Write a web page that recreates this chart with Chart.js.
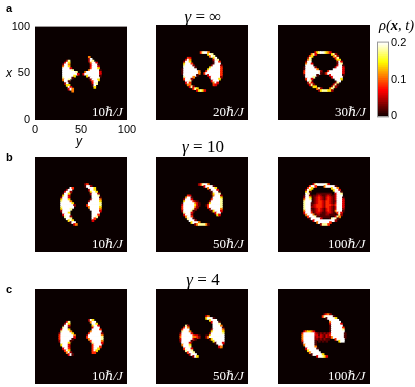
<!DOCTYPE html>
<html>
<head>
<meta charset="utf-8">
<script src="https://cdn.jsdelivr.net/npm/chart.js@4"></script>
<style>
  html, body { margin: 0; padding: 0; background: #fff; }
  body { width: 415px; height: 387px; position: relative; overflow: hidden; }
  canvas { position: absolute; filter: blur(0.7px); }
  .t { position: absolute; white-space: nowrap; line-height: 1; }
  .tag { font: bold 11px "Liberation Sans", sans-serif; color: #000; }
  .title { font: 17px "Liberation Serif", serif; color: #000; transform: translateX(-50%); }
  .time { font: italic 13px "Liberation Serif", "DejaVu Serif", serif; color: #fff; }
  .time b { font-weight: normal; font-style: normal; }
  .axis { font: italic 12px "Liberation Sans", sans-serif; color: #000; }
  .cbar { font: italic 14.5px "Liberation Serif", serif; color: #000; }
</style>
</head>
<body>
<script>
// density maps, rows top to bottom (x = 73 ... 25), columns y = 26 ... 74 in cells of 2 sites
// . = 0, digits index levelValues, w = 0.2 or more
const rhoInf10 = ['','','',
  '................5','................28','....27..........2w7','...3w6...........5ww3','..28w5...........3ww81',
  '..5ww6...........3www3','..8www3..........4www6','..8wwww7........5wwwww1','..8wwwwww7....5wwwwwww3','..8wwwwwww3..3wwwwwwww3',
  '..8wwwww6......6wwwwww1','..7wwww1........1wwwww','..5ww7...........2www6','...8w1............4ww','...2w.............3w7',
  '....66............1w','.....w3............6','.....3w5','.......5','','',''];
const rhoInf20 = ['',
  '...........47885','...............6w7','................5w7','....43............6w','...3w5............3w7',
  '..2ww6............1ww4','..6www4...........1www','..7wwww2.........2wwww2','..8wwwww1.......6wwwww4','.18wwwwww......6wwwwww4',
  '.1wwwwwwww5...4wwwwwww4','.1wwwwwwww5..4wwwwwwww4','..8wwwwww1.....3wwwwww4','..7wwww5........3wwwww2','..4www2..........wwww6',
  '...ww7...........3www','...3w4............5w3','....55............43','.....372','.......476','.........36763','','',''];
const rhoInf30 = ['',
  '.......367887653','.....573........672','....46...........572','...27.............47','...57..............66',
  '..2ww..............2w3','..5ww3.............1w7','..8www.............3ww1','.1wwwww2..........3www3','.1wwwwww5........wwwww3',
  '.4wwwwwwww2...4wwwwwww3','.4wwwwwwww1.14wwwwwwww3','.1wwwwww1......3wwwwww1','..8www7.........3wwwww','..4ww3............www6',
  '...87..............ww','...273............27','....372..........371','......66........272','........572....57',
  '.........26777662','','',''];
const rhoTen10 = ['',
  '..............24','..............1ww2','......84........www6','....2w8.........2ww6','...3ww2..........6ww6',
  '..18w6...........2www2','..6ww3............www7','.2www3............wwww1','.6www6...........2wwww5','.7wwww5.........2wwwww6',
  '.8wwwww6........wwwwww7','.8wwwwww2......4wwwwww7','.7wwwwww........5wwwww6','.6wwww7..........8wwww5','.2www8............wwww3',
  '..8ww6............wwww','..3ww8............www4','...7ww2...........ww7','....8w7...........w4','.....6w6..........3',
  '......1w8','........35','',''];
const rhoTen50 = ['',
  '..........247ww5','.............3wwww1','...............5www6','................18ww3','.................18ww1',
  '.................16ww7','....43............5www2','...5ww1..........18www6','..2www3..........4wwww7','..6wwww421......28wwww7',
  '.18wwwww531....16wwwww7','.3wwwwww631...148wwwww7','.4wwwwww52.....4wwwwww7','.4wwwww72.......28wwww5','.2wwww71.........16www3',
  '..7www3............3ww','..3www2.............63','...5ww4','....7ww1','.....8ww2',
  '......6www5','........25777751','',''];
const rhoTen100 = ['',
  '......378888873','....48w4....5wwwww1','...4w6..........6ww5','..2w6............6ww3','..6w1.............www1',
  '..w7....11111111..3ww7','.1ww2.1123211232113www','.2ww6.1234321343213www1','.5ww7.1234321343213www3','.7ww8.1234432443212www3',
  '.7www11234432443213www3','.7www12344432444324www3','.7www22344432443213www3','.7www11234321343213www2','.5www21234321343215www1',
  '.3www4123321123321.4w3','..5www512211122111..72','...4www71.11111...375','....1wwwww3....17w71','......3wwwwwwwwww82',
  '........5wwwwww4','..........27774','',''];
const rhoFour10 = ['','','',
  '................2w6','....37...........5ww','...2w6............ww6',
  '..1ww3............6ww3','..7ww1............3ww8','.3www6............8www4','.7wwww5..........5wwww8','2wwwwww6........4wwwwww2',
  '4wwwwwww5......2wwwwwww5','4wwwwwww3......4wwwwwww7','4wwwwww1........5wwwwww7','2wwwww1..........4wwwww5','.8www6............7wwww3',
  '.6www3............4wwww','..www3............4www4','..3ww4............4ww6','...4w6............4w6','....5w2...........44',
  '.....381','','',''];
const rhoFour50 = ['',
  '..............35','..............6www1','................6ww8','.................3www1','..................www7',
  '...72.............wwww5','..4w5.............wwwww1','.4www............2wwwww5','.7www5...........6wwwww6','2wwwww3.........2wwwwww7',
  '4wwwwww4331...116wwwwwww','5wwwwww5542...258wwwwwww','3wwwwww31.......16wwwwww','2wwwww1...........6wwwww','.8www3.............1www3',
  '.5www6...............ww','..www7...............35','..4www3','...7ww7','....4ww7',
  '.....2www','.......286','',''];
const rhoFour100 = ['............2452',
  '...........47wwww1','.............1wwww6','...............wwwww','...............5wwww8','...............3wwwww3',
  '...............1wwwww8','...............1wwwwww4','...............1wwwwww7','.356653........1wwwwwww','4wwwwww321212123wwwwwww1',
  '5wwwwww331321324wwwwwww1','5wwwwww2323213225wwwwww1','5wwwwww22121211...4wwww','4wwwwww1.1.1.1......6ww','1wwwwww1',
  '.5wwwww1','..wwwww5','..3wwwww1','...6wwwww','....5wwww8',
  '.....1wwwww6','........388763','',''];

const levelValues = [0, 0.02, 0.04, 0.06, 0.085, 0.11, 0.14, 0.18, 0.2, 0.2];
const panelMaps = [rhoInf10, rhoInf20, rhoInf30, rhoTen10, rhoTen50, rhoTen100, rhoFour10, rhoFour50, rhoFour100];
const panelTimes = ['10', '20', '30', '10', '50', '100', '10', '50', '100'];
const gammaTitles = ['∞', '10', '4'];
const axisTicks = [0, 50, 100];
const colorTicks = [0, 0.1, 0.2];
const colorLevels = [0.0025, 0.0075, 0.0125, 0.0175, 0.0225, 0.0275, 0.0325, 0.0375, 0.0425, 0.0475,
  0.0525, 0.0575, 0.0625, 0.0675, 0.0725, 0.0775, 0.0825, 0.0875, 0.0925, 0.0975,
  0.1025, 0.1075, 0.1125, 0.1175, 0.1225, 0.1275, 0.1325, 0.1375, 0.1425, 0.1475,
  0.1525, 0.1575, 0.1625, 0.1675, 0.1725, 0.1775, 0.1825, 0.1875, 0.1925, 0.1975];

const colLeft = [35, 156, 278];
const rowTop = [25, 157, 289];
const panelW = 92, panelH = 95;

function hot(v) {
    const t = Math.min(v / 0.2, 1);
    const r = Math.min(1, 0.04 + t / 0.365);
    const g = Math.max(0, Math.min(1, (t - 0.365) / 0.38));
    const b = Math.max(0, (t - 0.746) / 0.254);
    return `rgb(${Math.round(r * 255)},${Math.round(g * 255)},${Math.round(b * 255)})`;
}

function level(ch) {
    if (ch === 'w') return 0.2;
    if (ch === '.') return 0;
    return levelValues[Number(ch)];
}

// merge equal neighbours of each row into one floating bar
function cellsFrom(rows) {
    const cells = [];
    rows.forEach((row, k) => {
        let c = 0;
        while (c < row.length) {
            let e = c;
            while (e + 1 < row.length && row[e + 1] === row[c]) e++;
            if (row[c] !== '.') {
                cells.push({x: [26 + 2 * c, 28 + 2 * e], y: 73 - 2 * k, v: level(row[c])});
            }
            c = e + 1;
        }
    });
    return cells;
}

const panelBack = {
    id: 'panelBack',
    beforeDatasetsDraw(chart) {
        const a = chart.chartArea;
        chart.ctx.fillStyle = hot(0);
        chart.ctx.fillRect(a.left, a.top, a.width, a.height);
    }
};

const tickFont = {family: '"Liberation Sans", sans-serif', size: 11};

function addCanvas(left, top, w, h, pad) {
    const c = document.createElement('canvas');
    c.width = w + 2 * pad;
    c.height = h + 2 * pad;
    c.style.left = (left - pad) + 'px';
    c.style.top = (top - pad) + 'px';
    document.body.appendChild(c);
    return c.getContext('2d');
}

function addText(cls, html, left, top) {
    const d = document.createElement('div');
    d.className = 't ' + cls;
    d.innerHTML = html;
    d.style.left = left + 'px';
    d.style.top = top + 'px';
    document.body.appendChild(d);
}

panelMaps.forEach((rows, i) => {
    const first = i === 0;
    const left = colLeft[i % 3], top = rowTop[Math.floor(i / 3)];
    const ctx = first ? addCanvas(0, 15, 145, 130, 0) : addCanvas(left, top, panelW, panelH, 2);
    new Chart(ctx, {
        type: 'bar',
        data: {
            datasets: [{
                data: cellsFrom(rows),
                backgroundColor: c => hot(c.raw ? c.raw.v : 0),
                borderWidth: 0,
                barPercentage: 1,
                categoryPercentage: 1,
                inflateAmount: 0.4
            }]
        },
        options: {
            indexAxis: 'y',
            responsive: false,
            animation: false,
            layout: {padding: first ? {left: 0, top: 10, right: 18, bottom: 0} : 2},
            plugins: {legend: {display: false}, tooltip: {enabled: false}},
            scales: {
                x: {
                    type: 'linear', min: 0, max: 100, display: first,
                    grid: {display: false, drawTicks: false}, border: {display: false},
                    afterBuildTicks: s => { s.ticks = axisTicks.map(v => ({value: v})); },
                    afterFit: s => { if (first) s.height = 25; },
                    ticks: {color: '#000', font: tickFont, maxRotation: 0, autoSkip: false, padding: 3}
                },
                y: {
                    type: 'linear', min: 0, max: 100, offset: false, display: first,
                    grid: {display: false, offset: false, drawTicks: false}, border: {display: false},
                    afterBuildTicks: s => { s.ticks = axisTicks.map(v => ({value: v})); },
                    afterFit: s => { if (first) s.width = 35; },
                    ticks: {color: '#000', font: tickFont, autoSkip: false, padding: 5}
                }
            }
        },
        plugins: [panelBack]
    });
    addText('time', `<b>${panelTimes[i]}</b>ℏ/J`, left + (panelTimes[i].length > 2 ? 50 : 57), top + 79);
});

// colour bar
new Chart(addCanvas(370, 33, 45, 93, 0), {
    type: 'bar',
    data: {
        datasets: [{
            data: colorLevels.map(v => ({x: [0, 1], y: v, v: v})),
            backgroundColor: c => hot(c.raw ? c.raw.v : 0),
            borderWidth: 0,
            barPercentage: 1,
            categoryPercentage: 1,
            inflateAmount: 0.4
        }]
    },
    options: {
        indexAxis: 'y',
        responsive: false,
        animation: false,
        layout: {padding: {left: 8, top: 6, right: 0, bottom: 6}},
        plugins: {legend: {display: false}, tooltip: {enabled: false}},
        scales: {
            x: {type: 'linear', min: 0, max: 1, display: false},
            y: {
                type: 'linear', position: 'right', min: 0, max: 0.2, offset: false,
                grid: {display: false, offset: false, drawTicks: false}, border: {display: false},
                afterBuildTicks: s => { s.ticks = colorTicks.map(v => ({value: v})); },
                afterFit: s => { s.width = 27; },
                ticks: {color: '#000', font: tickFont, autoSkip: false, padding: 3}
            }
        }
    },
    plugins: [{
        id: 'barFrame',
        afterDatasetsDraw(chart) {
            const a = chart.chartArea;
            chart.ctx.strokeStyle = '#999';
            chart.ctx.lineWidth = 1;
            chart.ctx.strokeRect(a.left - 0.5, a.top - 0.5, a.width + 1, a.height + 1);
        }
    }]
});

gammaTitles.forEach((g, i) => {
    addText('title', `<i>γ</i> = ${g}`, 203, [7, 137, 270][i]);
});
addText('tag', 'a', 6, 2);
addText('tag', 'b', 6, 151);
addText('tag', 'c', 6, 283);
addText('axis', 'x', 6, 66);
addText('axis', 'y', 76, 134);
addText('cbar', '<i>ρ</i>(<b>x</b>, <i>t</i>)', 379, 17);
</script>
</body>
</html>
